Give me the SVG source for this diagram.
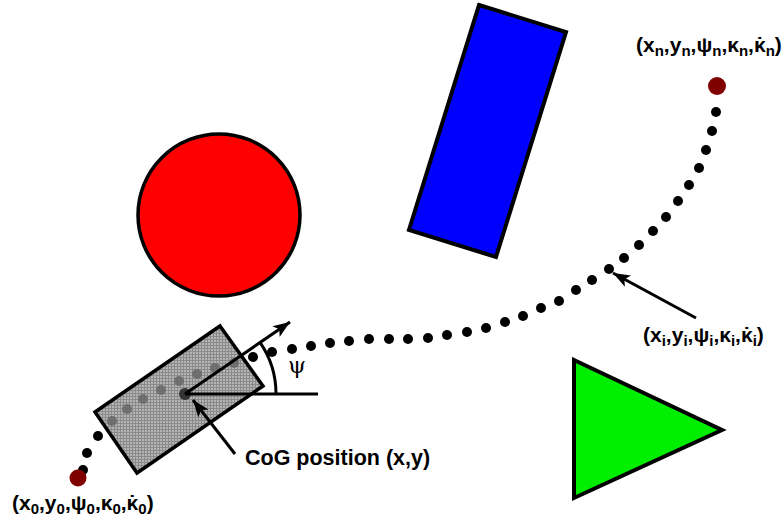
<svg xmlns="http://www.w3.org/2000/svg" width="784" height="525" viewBox="0 0 784 525">
<style>
.ob{stroke:#000;stroke-width:4;stroke-linejoin:miter}
.lbl{font-family:"Liberation Sans",Arial,sans-serif;font-weight:bold;fill:#000}
.m{font-size:21px}
.s{font-size:15px}
.dot{fill:#000}
.gdot{fill:#666;opacity:0.85}
.ln{stroke:#000;stroke-width:3;fill:none}
</style>
<defs>
<pattern id="hatch" width="3" height="3" patternUnits="userSpaceOnUse">
<rect width="3" height="3" fill="#b4b4b4"/>
<path d="M0 0.5H3M0.5 0V3" stroke="#8a8a8a" stroke-width="1"/>
</pattern>
<marker id="ah" markerUnits="userSpaceOnUse" markerWidth="20" markerHeight="14" refX="17" refY="6.5" orient="auto">
<path d="M0 0L17 6.5L0 13L4 6.5z" fill="#000"/>
</marker>
</defs>
<rect width="784" height="525" fill="#fff"/>
<g id="circle-obstacle"><circle cx="219" cy="215" r="81" fill="#ff0000" class="ob" style="stroke-width:3.5"/></g>
<g id="rect-obstacle"><polygon points="479,5 566,32 496,257 409,230" fill="#0000ff" class="ob"/></g>
<g id="triangle-obstacle"><polygon points="574,360 722,430 574,498" fill="#00ee00" class="ob"/></g>
<g id="trajectory">
<circle class="dot" cx="83" cy="470" r="5"/>
<circle class="dot" cx="87" cy="453" r="5"/>
<circle class="dot" cx="98" cy="436" r="5"/>
<circle class="dot" cx="253" cy="357" r="5"/>
<circle class="dot" cx="272" cy="352" r="5"/>
<circle class="dot" cx="292" cy="349" r="5"/>
<circle class="dot" cx="311" cy="346" r="5"/>
<circle class="dot" cx="330" cy="343" r="5"/>
<circle class="dot" cx="349" cy="341" r="5"/>
<circle class="dot" cx="369" cy="339" r="5"/>
<circle class="dot" cx="389" cy="339" r="5"/>
<circle class="dot" cx="408" cy="339" r="5"/>
<circle class="dot" cx="428" cy="338" r="5"/>
<circle class="dot" cx="447" cy="335" r="5"/>
<circle class="dot" cx="467" cy="332" r="5"/>
<circle class="dot" cx="486" cy="328" r="5"/>
<circle class="dot" cx="505" cy="322" r="5"/>
<circle class="dot" cx="523" cy="316" r="5"/>
<circle class="dot" cx="541" cy="308" r="5"/>
<circle class="dot" cx="559" cy="301" r="5"/>
<circle class="dot" cx="576" cy="290" r="5"/>
<circle class="dot" cx="592" cy="280" r="5"/>
<circle class="dot" cx="609" cy="269" r="5"/>
<circle class="dot" cx="624" cy="258" r="5"/>
<circle class="dot" cx="639" cy="245" r="5"/>
<circle class="dot" cx="653" cy="231" r="5"/>
<circle class="dot" cx="666" cy="217" r="5"/>
<circle class="dot" cx="678" cy="201" r="5"/>
<circle class="dot" cx="689" cy="185" r="5"/>
<circle class="dot" cx="699" cy="168" r="5"/>
<circle class="dot" cx="706" cy="150" r="5"/>
<circle class="dot" cx="712" cy="131" r="5"/>
<circle class="dot" cx="716" cy="112" r="5"/>
</g>
<g id="start-point"><circle cx="78" cy="478" r="8.5" fill="#800000"/></g>
<g id="end-point"><circle cx="717" cy="86" r="9" fill="#800000"/></g>
<g id="vehicle">
<polygon points="220,326 263,386 137,473 95,412" fill="url(#hatch)" stroke="#000" stroke-width="3.5"/>
<circle class="gdot" cx="112" cy="421" r="5"/>
<circle class="gdot" cx="127" cy="409" r="5"/>
<circle class="gdot" cx="143" cy="399" r="5"/>
<circle class="gdot" cx="161" cy="390" r="5"/>
<circle class="gdot" cx="179" cy="381" r="5"/>
<circle class="gdot" cx="197" cy="374" r="5"/>
<circle class="gdot" cx="215" cy="368" r="5"/>
<circle class="gdot" cx="234" cy="363" r="5"/>
<circle cx="185" cy="394" r="6" fill="#333"/>
</g>
<g id="connectors">
<line class="ln" x1="185" y1="394" x2="290" y2="322" marker-end="url(#ah)"/>
<line class="ln" x1="185" y1="394" x2="318" y2="394"/>
<path class="ln" d="M276 394A91 91 0 0 0 260.2 342.6"/>
<line class="ln" x1="235" y1="454" x2="193" y2="400" marker-end="url(#ah)"/>
<line class="ln" x1="696" y1="318" x2="613" y2="273" marker-end="url(#ah)"/>
</g>
<g id="labels">
<text x="288" y="373" font-family="'DejaVu Serif','Liberation Serif',serif" font-size="23" fill="#000">ψ</text>
<text class="lbl m" x="245" y="465" style="font-size:21.5px">CoG position (x,y)</text>
<text class="lbl m" x="12" y="510">(x<tspan class="s" dy="4">0</tspan><tspan dy="-4">,y</tspan><tspan class="s" dy="4">0</tspan><tspan dy="-4">,ψ</tspan><tspan class="s" dy="4">0</tspan><tspan dy="-4">,κ</tspan><tspan class="s" dy="4">0</tspan><tspan dy="-4">,κ</tspan><tspan dx="-9.5">˙</tspan><tspan class="s" dx="2.5" dy="4">0</tspan><tspan dy="-4">)</tspan></text>
<text class="lbl m" x="636" y="52">(x<tspan class="s" dy="4">n</tspan><tspan dy="-4">,y</tspan><tspan class="s" dy="4">n</tspan><tspan dy="-4">,ψ</tspan><tspan class="s" dy="4">n</tspan><tspan dy="-4">,κ</tspan><tspan class="s" dy="4">n</tspan><tspan dy="-4">,κ</tspan><tspan dx="-9.5">˙</tspan><tspan class="s" dx="2.5" dy="4">n</tspan><tspan dy="-4">)</tspan></text>
<text class="lbl m" x="643" y="342">(x<tspan class="s" dy="4">i</tspan><tspan dy="-4">,y</tspan><tspan class="s" dy="4">i</tspan><tspan dy="-4">,ψ</tspan><tspan class="s" dy="4">i</tspan><tspan dy="-4">,κ</tspan><tspan class="s" dy="4">i</tspan><tspan dy="-4">,κ</tspan><tspan dx="-9.5">˙</tspan><tspan class="s" dx="2.5" dy="4">i</tspan><tspan dy="-4">)</tspan></text>
</g>
</svg>
